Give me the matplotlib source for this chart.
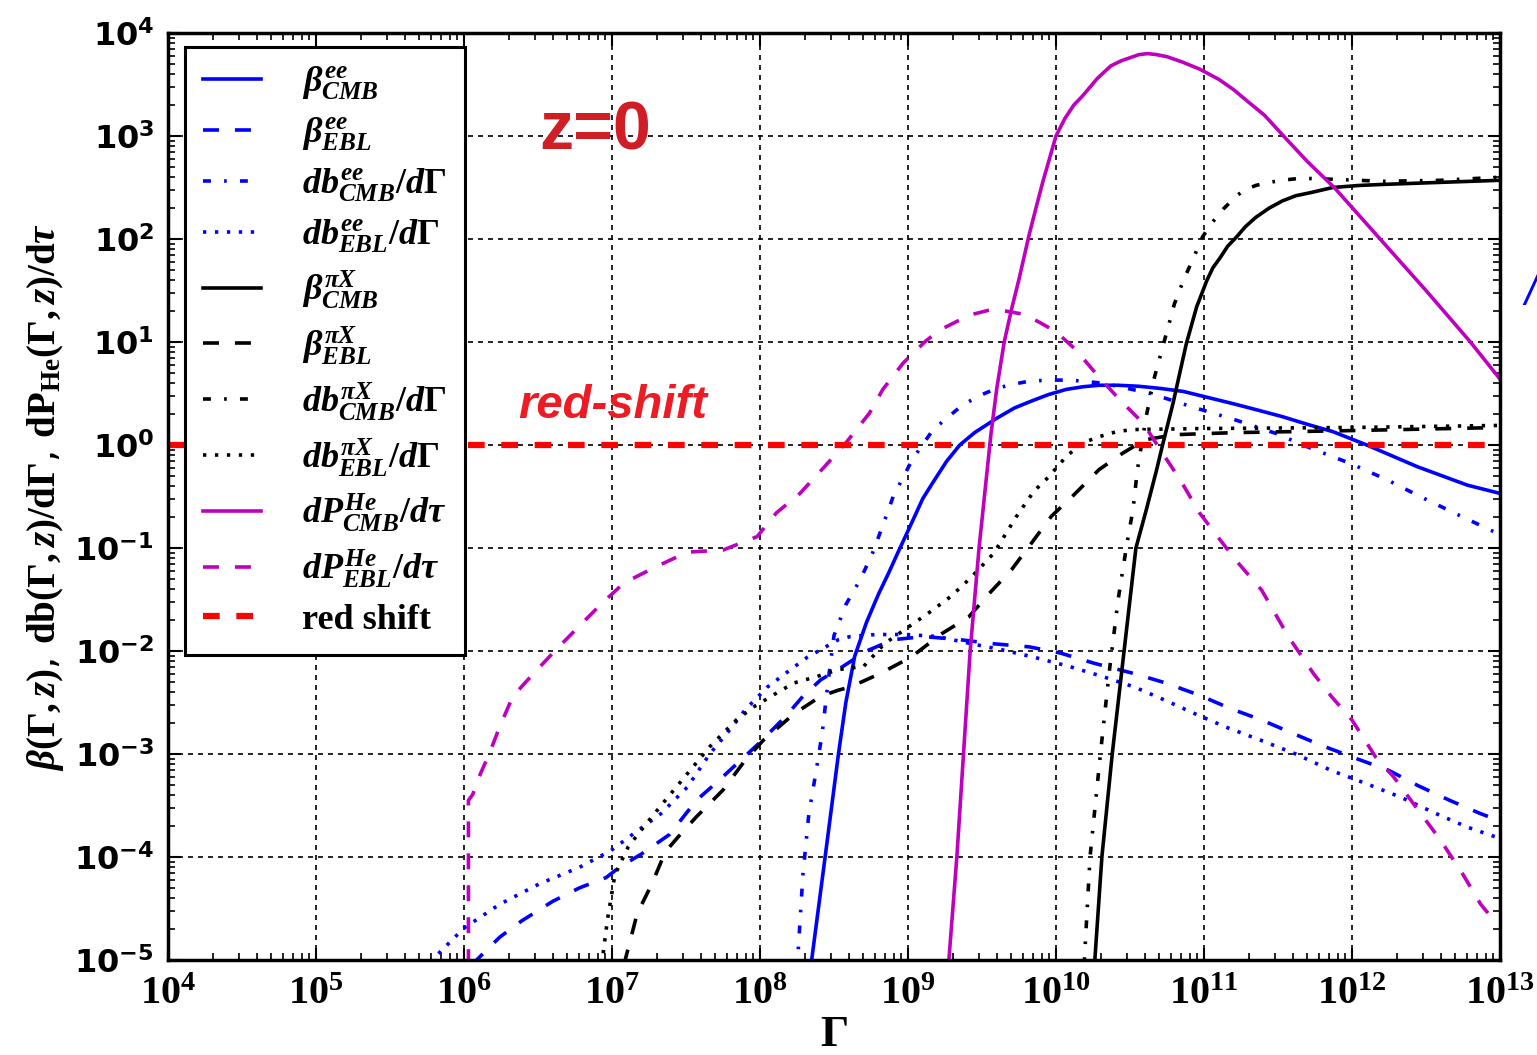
import matplotlib
matplotlib.use("Agg")
import matplotlib.pyplot as plt
import numpy as np
from matplotlib.ticker import FixedLocator, LogLocator, FuncFormatter, NullFormatter

# all values are log10 exponents: lg = log10(Gamma), lv = log10(value)
beta_ee_cmb_lg = [8.34, 8.44, 8.53, 8.58, 8.64, 8.72, 8.80, 8.87, 8.93, 9.03, 9.10, 9.17, 9.26, 9.35,
                  9.45, 9.60, 9.72, 9.84, 9.95, 10.07, 10.18, 10.29, 10.42, 10.56, 10.70, 10.86, 11.03,
                  11.20, 11.36, 11.53, 11.70, 11.87, 12.10, 12.44, 12.78, 13.00]
beta_ee_cmb_lv = [-5.10, -4.00, -3.00, -2.50, -2.05, -1.72, -1.45, -1.24, -1.05, -0.74, -0.52, -0.36,
                  -0.16, 0.00, 0.12, 0.26, 0.36, 0.43, 0.49, 0.54, 0.565, 0.58, 0.58, 0.57, 0.55, 0.52,
                  0.46, 0.40, 0.34, 0.275, 0.20, 0.13, 0.00, -0.21, -0.39, -0.47]

beta_ee_ebl_lg = [6.05, 6.24, 6.39, 6.60, 6.78, 6.96, 7.05, 7.20, 7.39, 7.57, 7.72, 7.87, 7.99, 8.17,
                  8.29, 8.41, 8.56, 8.72, 8.90, 9.11, 9.35, 9.58, 9.82, 10.03, 10.26, 10.53, 10.74,
                  10.97, 11.18, 11.39, 11.60, 11.80, 12.04, 12.25, 12.45, 12.66, 12.87, 13.00]
beta_ee_ebl_lv = [-5.05, -4.78, -4.62, -4.43, -4.30, -4.20, -4.10, -3.97, -3.78, -3.45, -3.26, -3.06,
                  -2.90, -2.64, -2.44, -2.28, -2.15, -2.00, -1.89, -1.86, -1.89, -1.93, -1.96, -2.02,
                  -2.12, -2.22, -2.31, -2.43, -2.56, -2.67, -2.80, -2.92, -3.05, -3.16, -3.31, -3.45,
                  -3.58, -3.65]

db_ee_cmb_lg = [8.25, 8.29, 8.33, 8.38, 8.42, 8.46, 8.50, 8.58, 8.68, 8.76, 8.83, 8.90, 9.03, 9.17,
                9.37, 9.50, 9.60, 9.71, 9.82, 9.95, 10.10, 10.32, 10.64, 10.92, 11.22, 11.49, 11.72,
                11.99, 12.24, 12.46, 12.72, 13.00]
db_ee_cmb_lv = [-5.10, -4.17, -3.58, -3.16, -2.80, -2.30, -1.85, -1.55, -1.30, -1.05, -0.78, -0.50,
                -0.14, 0.15, 0.39, 0.49, 0.55, 0.59, 0.62, 0.63, 0.63, 0.60, 0.50, 0.37, 0.24, 0.11,
                -0.03, -0.18, -0.34, -0.50, -0.68, -0.87]

db_ee_ebl_lg = [5.77, 6.00, 6.24, 6.51, 6.78, 6.99, 7.14, 7.33, 7.51, 7.66, 7.81, 7.90, 8.05, 8.17,
                8.32, 8.53, 8.61, 8.78, 8.99, 9.20, 9.43, 9.64, 9.85, 10.09, 10.32, 10.53, 10.74,
                10.94, 11.15, 11.39, 11.62, 11.86, 12.10, 12.33, 12.57, 12.78, 13.00]
db_ee_ebl_lv = [-5.02, -4.69, -4.46, -4.26, -4.10, -3.94, -3.78, -3.58, -3.32, -3.00, -2.74, -2.57,
                -2.35, -2.22, -2.06, -1.89, -1.86, -1.84, -1.84, -1.86, -1.93, -1.99, -2.06, -2.15,
                -2.25, -2.35, -2.48, -2.61, -2.74, -2.87, -3.00, -3.16, -3.29, -3.42, -3.58, -3.71,
                -3.82]

beta_px_cmb_lg = [10.26, 10.31, 10.38, 10.46, 10.54, 10.61, 10.68, 10.72, 10.79, 10.88, 10.95, 11.02,
                  11.06, 11.11, 11.16, 11.22, 11.28, 11.35, 11.44, 11.53, 11.62, 11.72, 11.87, 12.05,
                  12.21, 12.60, 13.00]
beta_px_cmb_lv = [-5.05, -4.00, -3.00, -2.00, -1.00, -0.63, -0.24, 0.00, 0.40, 0.98, 1.34, 1.60,
                  1.72, 1.82, 1.93, 2.02, 2.12, 2.21, 2.30, 2.37, 2.42, 2.45, 2.50, 2.52, 2.53, 2.55,
                  2.57]

beta_px_ebl_lg = [7.08, 7.17, 7.27, 7.36, 7.45, 7.57, 7.75, 7.90, 8.02, 8.23, 8.41, 8.53, 8.61, 8.81,
                  9.02, 9.23, 9.41, 9.55, 9.70, 9.82, 9.97, 10.11, 10.29, 10.45, 10.60, 10.80, 11.20,
                  12.00, 13.00]
beta_px_ebl_lv = [-5.05, -4.55, -4.26, -3.95, -3.80, -3.61, -3.35, -3.06, -2.87, -2.61, -2.44, -2.38,
                  -2.35, -2.22, -2.06, -1.83, -1.67, -1.44, -1.21, -0.98, -0.69, -0.50, -0.24, -0.08,
                  0.05, 0.10, 0.12, 0.14, 0.17]

db_px_cmb_lg = [10.19, 10.23, 10.30, 10.36, 10.42, 10.48, 10.52, 10.55, 10.61, 10.66, 10.73, 10.77,
                10.80, 10.84, 10.88, 10.93, 10.99, 11.05, 11.13, 11.22, 11.28, 11.35, 11.44, 11.53,
                11.65, 11.87, 12.21, 12.60, 13.00]
db_px_cmb_lv = [-5.05, -4.00, -3.00, -2.20, -1.50, -0.95, -0.63, -0.24, 0.28, 0.63, 1.00, 1.21,
                1.37, 1.52, 1.66, 1.82, 2.02, 2.15, 2.29, 2.42, 2.48, 2.52, 2.55, 2.57, 2.59, 2.58,
                2.56, 2.57, 2.60]

db_px_ebl_lg = [6.93, 6.97, 7.02, 7.11, 7.23, 7.36, 7.51, 7.66, 7.84, 7.96, 8.11, 8.23, 8.38, 8.53,
                8.70, 8.84, 8.99, 9.14, 9.29, 9.43, 9.58, 9.73, 9.85, 9.95, 10.07, 10.18, 10.29,
                10.41, 10.52, 11.00, 12.00, 13.00]
db_px_ebl_lv = [-5.05, -4.60, -4.17, -3.90, -3.68, -3.45, -3.19, -2.93, -2.67, -2.54, -2.41, -2.31,
                -2.25, -2.18, -2.15, -1.93, -1.78, -1.63, -1.47, -1.28, -1.05, -0.70, -0.45, -0.31,
                -0.11, 0.02, 0.08, 0.13, 0.15, 0.16, 0.17, 0.19]

dp_he_cmb_lg = [9.26, 9.33, 9.375, 9.42, 9.48, 9.56, 9.60, 9.65, 9.70, 9.75, 9.82, 9.87, 9.91, 9.96,
                10.00, 10.06, 10.12, 10.18, 10.28, 10.37, 10.44, 10.50, 10.56, 10.62, 10.68, 10.75,
                10.85, 10.97, 11.10, 11.20, 11.30, 11.41, 11.55, 11.70, 11.88, 12.19, 12.50, 12.80,
                13.00]
dp_he_cmb_lv = [-5.30, -4.00, -3.00, -2.00, -1.00, 0.10, 0.55, 1.00, 1.32, 1.61, 2.05, 2.33, 2.55,
                2.80, 3.00, 3.17, 3.30, 3.39, 3.56, 3.68, 3.73, 3.76, 3.79, 3.80, 3.79, 3.77, 3.72,
                3.65, 3.55, 3.45, 3.33, 3.20, 2.98, 2.75, 2.50, 2.00, 1.50, 1.00, 0.64]

dp_he_ebl_lg = [6.03, 6.03, 6.06, 6.09, 6.17, 6.24, 6.33, 6.45, 6.60, 6.75, 6.93, 7.08, 7.30, 7.51,
                7.75, 7.98, 8.11, 8.27, 8.43, 8.58, 8.74, 8.83, 8.97, 9.12, 9.22, 9.33, 9.44, 9.55,
                9.66, 9.78, 9.89, 10.00, 10.13, 10.29, 10.43, 10.59, 10.72, 10.84, 10.97, 11.21,
                11.39, 11.57, 11.74, 11.86, 12.00, 12.16, 12.28, 12.45, 12.60, 12.75, 12.87, 12.98]
dp_he_ebl_lv = [-5.05, -3.45, -3.39, -3.26, -3.00, -2.74, -2.44, -2.25, -2.02, -1.80, -1.54, -1.34,
                -1.18, -1.04, -1.02, -0.89, -0.66, -0.47, -0.22, 0.02, 0.31, 0.54, 0.80, 1.01, 1.12,
                1.20, 1.27, 1.31, 1.30, 1.27, 1.19, 1.10, 0.93, 0.66, 0.44, 0.21, -0.08, -0.34,
                -0.66, -1.11, -1.41, -1.86, -2.22, -2.44, -2.67, -3.03, -3.22, -3.55, -3.84, -4.17,
                -4.46, -4.65]

redshift_lg = [4.0, 13.0]
redshift_lv = [0.0, 0.0]

x_decades = list(range(4, 14))
y_decades = list(range(-5, 5))

plt.rcParams["lines.scale_dashes"] = False
plt.rcParams["mathtext.fontset"] = "custom"
plt.rcParams["mathtext.rm"] = "Liberation Serif:bold"
plt.rcParams["mathtext.it"] = "Liberation Serif:italic:bold"
plt.rcParams["mathtext.bf"] = "Liberation Serif:bold"
plt.rcParams["mathtext.sf"] = "DejaVu Sans:bold"

DASHED = (0, (11.5, 11.5))
DASHDOT = (0, (5.7, 9.5, 1.9, 9.5))
DOTTED = (0, (2.4, 6.2))
LW = 2.6

series = [
    (beta_ee_cmb_lg, beta_ee_cmb_lv, "b", "-", r"$\beta^{ee}_{CMB}$"),
    (beta_ee_ebl_lg, beta_ee_ebl_lv, "b", DASHED, r"$\beta^{ee}_{EBL}$"),
    (db_ee_cmb_lg, db_ee_cmb_lv, "b", DASHDOT, r"$db^{ee}_{CMB}/d\Gamma$"),
    (db_ee_ebl_lg, db_ee_ebl_lv, "b", DOTTED, r"$db^{ee}_{EBL}/d\Gamma$"),
    (beta_px_cmb_lg, beta_px_cmb_lv, "k", "-", r"$\beta^{\pi X}_{CMB}$"),
    (beta_px_ebl_lg, beta_px_ebl_lv, "k", DASHED, r"$\beta^{\pi X}_{EBL}$"),
    (db_px_cmb_lg, db_px_cmb_lv, "k", DASHDOT, r"$db^{\pi X}_{CMB}/d\Gamma$"),
    (db_px_ebl_lg, db_px_ebl_lv, "k", DOTTED, r"$db^{\pi X}_{EBL}/d\Gamma$"),
    (dp_he_cmb_lg, dp_he_cmb_lv, "#bf00bf", "-", r"$dP^{He}_{CMB}/d\tau$"),
    (dp_he_ebl_lg, dp_he_ebl_lv, "#bf00bf", DASHED, r"$dP^{He}_{EBL}/d\tau$"),
]

fig = plt.figure(figsize=(15.37, 10.55), dpi=100)
ax = fig.add_axes([168 / 1537, 95 / 1055, 1332 / 1537, 927 / 1055])

for lg, lv, color, ls, label in series:
    ax.plot(10.0 ** np.array(lg), 10.0 ** np.array(lv), color=color, linestyle=ls,
            linewidth=LW, label=label)
ax.plot(10.0 ** np.array(redshift_lg), 10.0 ** np.array(redshift_lv), color="r",
        linestyle=(0, (12, 12)), linewidth=4.5, label="red shift")

ax.set_xscale("log")
ax.set_yscale("log")
ax.set_xlim(10.0 ** x_decades[0], 10.0 ** x_decades[-1])
ax.set_ylim(10.0 ** y_decades[0], 10.0 ** y_decades[-1])

ax.xaxis.set_major_locator(FixedLocator([10.0 ** d for d in x_decades]))
ax.yaxis.set_major_locator(FixedLocator([10.0 ** d for d in y_decades]))
ax.xaxis.set_minor_locator(LogLocator(base=10, subs=np.arange(2, 10), numticks=50))
ax.yaxis.set_minor_locator(LogLocator(base=10, subs=np.arange(2, 10), numticks=50))
ax.xaxis.set_minor_formatter(NullFormatter())
ax.yaxis.set_minor_formatter(NullFormatter())
ax.xaxis.set_major_formatter(FuncFormatter(
    lambda v, p: r"$\mathbf{10^{%d}}$" % int(round(np.log10(v)))))
ax.yaxis.set_major_formatter(FuncFormatter(
    lambda v, p: r"$\mathsf{10^{%d}}$" % int(round(np.log10(v)))))
ax.tick_params(axis="x", which="major", labelsize=29, pad=9)
ax.tick_params(axis="y", which="major", labelsize=23, pad=10)
ax.tick_params(which="both", direction="in", top=True, right=True, color="k")
ax.tick_params(which="major", length=9, width=1.5)
ax.tick_params(which="minor", length=5, width=1.2)
for spine in ax.spines.values():
    spine.set_linewidth(2.5)

ax.grid(True, which="major", color="k", linestyle=(0, (3.6, 3.6)), linewidth=1.2)

ax.set_xlabel(r"$\mathbf{\Gamma}$", fontsize=32, labelpad=0)
ax.set_ylabel(r"$\beta(\Gamma,z)$, $\mathrm{db}(\Gamma,z)/\mathrm{d}\Gamma$, "
              r"$\mathrm{dP_{He}}(\Gamma,z)/\mathrm{d}\tau$", fontsize=28, labelpad=6)

leg = ax.legend(loc="upper left", bbox_to_anchor=(0.0128, 0.985), borderaxespad=0,
                prop={"family": "Liberation Serif", "weight": "bold", "size": 26},
                handlelength=1.6, handletextpad=1.15, labelspacing=0.37,
                borderpad=0.5, fancybox=False, framealpha=1, edgecolor="k")
leg.get_frame().set_linewidth(2.2)

ax.text(0.279, 0.874, "z=0", transform=ax.transAxes, fontsize=49, fontweight="bold",
        family="Liberation Sans", color="#cf1e25", va="baseline", ha="left")
ax.text(0.263, 0.585, "red-shift", transform=ax.transAxes, fontsize=34, fontweight="bold",
        style="italic", family="Liberation Sans", color="#ed1c24", va="baseline", ha="left")
fig.text(0.9995, 1 - 305 / 1055, "/", fontsize=30, style="italic", color="b",
         family="Liberation Sans", ha="right", va="baseline")

fig.savefig("out.png", dpi=100)
